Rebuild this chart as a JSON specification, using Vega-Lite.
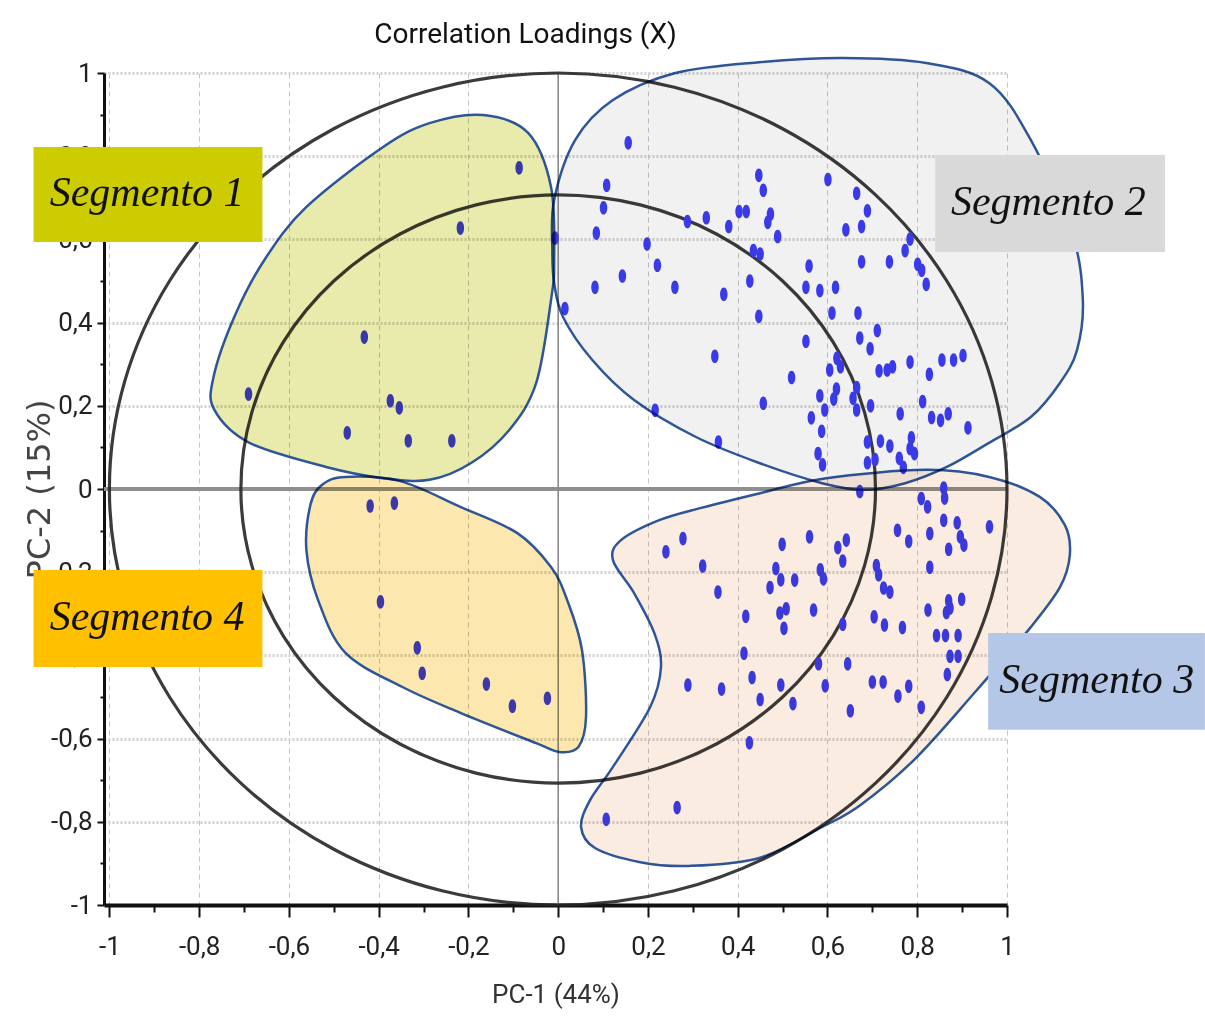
{
"$schema": "https://vega.github.io/schema/vega-lite/v6.json",
"width": 903, "height": 832,
"autosize": {"type": "none"},
"padding": {"left": 104, "top": 73, "right": 198, "bottom": 115},
"background": "white",
"title": {"text": "Correlation Loadings (X)", "font": "Roboto", "fontSize": 28, "fontWeight": "normal", "color": "#111111", "anchor": "middle", "frame": "group", "dx": -30, "offset": 4},
"config": {
 "view": {"stroke": null}
},
"datasets": {
"points": [
{"x":0.156,"y":0.832},{"x":0.108,"y":0.730},{"x":0.101,"y":0.676},{"x":0.085,"y":0.615},{"x":0.082,"y":0.485},{"x":0.143,"y":0.512},{"x":0.015,"y":0.434},{"x":0.198,"y":0.589},{"x":0.221,"y":0.538},{"x":0.260,"y":0.485},{"x":0.288,"y":0.643},{"x":0.330,"y":0.652},{"x":0.380,"y":0.631},{"x":0.403,"y":0.667},{"x":0.419,"y":0.667},{"x":0.447,"y":0.754},{"x":0.457,"y":0.718},{"x":0.473,"y":0.661},{"x":0.467,"y":0.641},{"x":0.489,"y":0.607},{"x":0.435,"y":0.573},{"x":0.450,"y":0.565},{"x":0.427,"y":0.500},{"x":0.369,"y":0.468},{"x":0.447,"y":0.415},{"x":0.349,"y":0.319},{"x":0.520,"y":0.268},{"x":0.457,"y":0.206},{"x":0.216,"y":0.189},{"x":0.357,"y":0.113},{"x":-0.007,"y":0.603},
{"x":0.601,"y":0.744},{"x":0.665,"y":0.711},{"x":0.689,"y":0.669},{"x":0.676,"y":0.631},{"x":0.641,"y":0.623},{"x":0.676,"y":0.546},{"x":0.738,"y":0.546},{"x":0.773,"y":0.573},{"x":0.784,"y":0.601},{"x":0.801,"y":0.540},{"x":0.810,"y":0.526},{"x":0.820,"y":0.492},{"x":0.559,"y":0.536},{"x":0.552,"y":0.485},{"x":0.583,"y":0.477},{"x":0.618,"y":0.485},{"x":0.610,"y":0.423},{"x":0.668,"y":0.423},{"x":0.711,"y":0.381},{"x":0.672,"y":0.363},{"x":0.695,"y":0.337},{"x":0.552,"y":0.355},{"x":0.605,"y":0.286},{"x":0.621,"y":0.314},{"x":0.629,"y":0.294},{"x":0.715,"y":0.284},{"x":0.733,"y":0.286},{"x":0.745,"y":0.294},{"x":0.784,"y":0.305},{"x":0.827,"y":0.276},{"x":0.855,"y":0.310},{"x":0.881,"y":0.310},{"x":0.902,"y":0.321},{"x":0.583,"y":0.224},{"x":0.620,"y":0.240},{"x":0.614,"y":0.216},{"x":0.665,"y":0.244},{"x":0.657,"y":0.218},{"x":0.665,"y":0.190},{"x":0.696,"y":0.200},{"x":0.594,"y":0.190},{"x":0.564,"y":0.171},{"x":0.587,"y":0.139},{"x":0.762,"y":0.181},{"x":0.812,"y":0.210},{"x":0.832,"y":0.172},{"x":0.852,"y":0.165},{"x":0.869,"y":0.181},{"x":0.913,"y":0.147},{"x":0.579,"y":0.085},{"x":0.589,"y":0.058},{"x":0.689,"y":0.113},{"x":0.689,"y":0.063},{"x":0.706,"y":0.071},{"x":0.718,"y":0.115},{"x":0.739,"y":0.103},{"x":0.760,"y":0.074},{"x":0.769,"y":0.052},{"x":0.787,"y":0.123},{"x":0.784,"y":0.097},{"x":0.794,"y":0.085},
{"x":0.240,"y":-0.151},{"x":0.278,"y":-0.119},{"x":0.322,"y":-0.185},{"x":0.356,"y":-0.248},{"x":0.499,"y":-0.133},{"x":0.485,"y":-0.191},{"x":0.496,"y":-0.218},{"x":0.472,"y":-0.237},{"x":0.527,"y":-0.219},{"x":0.418,"y":-0.306},{"x":0.494,"y":-0.298},{"x":0.508,"y":-0.288},{"x":0.503,"y":-0.335},{"x":0.414,"y":-0.395},{"x":0.289,"y":-0.471},{"x":0.364,"y":-0.481},{"x":0.432,"y":-0.453},{"x":0.450,"y":-0.506},{"x":0.496,"y":-0.471},{"x":0.523,"y":-0.516},{"x":0.426,"y":-0.610},{"x":0.265,"y":-0.766},{"x":0.107,"y":-0.794},
{"x":0.672,"y":-0.006},{"x":0.859,"y":0.002},{"x":0.861,"y":-0.022},{"x":0.809,"y":-0.023},{"x":0.823,"y":-0.043},{"x":0.859,"y":-0.075},{"x":0.889,"y":-0.081},{"x":0.896,"y":-0.115},{"x":0.904,"y":-0.135},{"x":0.870,"y":-0.145},{"x":0.961,"y":-0.091},{"x":0.828,"y":-0.107},{"x":0.756,"y":-0.099},{"x":0.781,"y":-0.126},{"x":0.828,"y":-0.188},{"x":0.560,"y":-0.115},{"x":0.623,"y":-0.141},{"x":0.642,"y":-0.123},{"x":0.634,"y":-0.173},{"x":0.584,"y":-0.194},{"x":0.591,"y":-0.216},{"x":0.709,"y":-0.184},{"x":0.714,"y":-0.206},{"x":0.725,"y":-0.238},{"x":0.739,"y":-0.248},{"x":0.569,"y":-0.291},{"x":0.634,"y":-0.325},{"x":0.704,"y":-0.307},{"x":0.727,"y":-0.327},{"x":0.767,"y":-0.333},{"x":0.824,"y":-0.291},{"x":0.870,"y":-0.269},{"x":0.899,"y":-0.265},{"x":0.865,"y":-0.297},{"x":0.873,"y":-0.286},{"x":0.843,"y":-0.352},{"x":0.863,"y":-0.352},{"x":0.891,"y":-0.352},{"x":0.873,"y":-0.402},{"x":0.891,"y":-0.402},{"x":0.867,"y":-0.446},{"x":0.580,"y":-0.420},{"x":0.645,"y":-0.420},{"x":0.595,"y":-0.473},{"x":0.651,"y":-0.533},{"x":0.700,"y":-0.464},{"x":0.724,"y":-0.464},{"x":0.757,"y":-0.498},{"x":0.781,"y":-0.474},{"x":0.809,"y":-0.525},
{"x":-0.690,"y":0.228},{"x":-0.432,"y":0.365},{"x":-0.374,"y":0.212},{"x":-0.354,"y":0.195},{"x":-0.470,"y":0.135},{"x":-0.334,"y":0.116},{"x":-0.237,"y":0.116},{"x":-0.087,"y":0.772},{"x":-0.218,"y":0.627},
{"x":-0.419,"y":-0.041},{"x":-0.365,"y":-0.034},{"x":-0.396,"y":-0.271},{"x":-0.314,"y":-0.382},{"x":-0.303,"y":-0.443},{"x":-0.160,"y":-0.469},{"x":-0.102,"y":-0.522},{"x":-0.024,"y":-0.503}
],
"circles": [
{"c":"o","i":0,"x":1,"y":0},{"c":"o","i":1,"x":0.9659,"y":0.2588},{"c":"o","i":2,"x":0.866,"y":0.5},{"c":"o","i":3,"x":0.7071,"y":0.7071},{"c":"o","i":4,"x":0.5,"y":0.866},{"c":"o","i":5,"x":0.2588,"y":0.9659},{"c":"o","i":6,"x":0,"y":1},{"c":"o","i":7,"x":-0.2588,"y":0.9659},{"c":"o","i":8,"x":-0.5,"y":0.866},{"c":"o","i":9,"x":-0.7071,"y":0.7071},{"c":"o","i":10,"x":-0.866,"y":0.5},{"c":"o","i":11,"x":-0.9659,"y":0.2588},{"c":"o","i":12,"x":-1,"y":0},{"c":"o","i":13,"x":-0.9659,"y":-0.2588},{"c":"o","i":14,"x":-0.866,"y":-0.5},{"c":"o","i":15,"x":-0.7071,"y":-0.7071},{"c":"o","i":16,"x":-0.5,"y":-0.866},{"c":"o","i":17,"x":-0.2588,"y":-0.9659},{"c":"o","i":18,"x":0,"y":-1},{"c":"o","i":19,"x":0.2588,"y":-0.9659},{"c":"o","i":20,"x":0.5,"y":-0.866},{"c":"o","i":21,"x":0.7071,"y":-0.7071},{"c":"o","i":22,"x":0.866,"y":-0.5},{"c":"o","i":23,"x":0.9659,"y":-0.2588},
{"c":"n","i":0,"x":0.707,"y":0},{"c":"n","i":1,"x":0.6829,"y":0.183},{"c":"n","i":2,"x":0.6123,"y":0.3535},{"c":"n","i":3,"x":0.5,"y":0.5},{"c":"n","i":4,"x":0.3535,"y":0.6123},{"c":"n","i":5,"x":0.183,"y":0.6829},{"c":"n","i":6,"x":0,"y":0.707},{"c":"n","i":7,"x":-0.183,"y":0.6829},{"c":"n","i":8,"x":-0.3535,"y":0.6123},{"c":"n","i":9,"x":-0.5,"y":0.5},{"c":"n","i":10,"x":-0.6123,"y":0.3535},{"c":"n","i":11,"x":-0.6829,"y":0.183},{"c":"n","i":12,"x":-0.707,"y":0},{"c":"n","i":13,"x":-0.6829,"y":-0.183},{"c":"n","i":14,"x":-0.6123,"y":-0.3535},{"c":"n","i":15,"x":-0.5,"y":-0.5},{"c":"n","i":16,"x":-0.3535,"y":-0.6123},{"c":"n","i":17,"x":-0.183,"y":-0.6829},{"c":"n","i":18,"x":0,"y":-0.707},{"c":"n","i":19,"x":0.183,"y":-0.6829},{"c":"n","i":20,"x":0.3535,"y":-0.6123},{"c":"n","i":21,"x":0.5,"y":-0.5},{"c":"n","i":22,"x":0.6123,"y":-0.3535},{"c":"n","i":23,"x":0.6829,"y":-0.183}
],
"shapes": [
{"s":1,"i":0,"x":-0.167,"y":0.899},{"s":1,"i":1,"x":-0.067,"y":0.856},{"s":1,"i":2,"x":-0.016,"y":0.726},{"s":1,"i":3,"x":-0.009,"y":0.550},{"s":1,"i":4,"x":-0.016,"y":0.454},{"s":1,"i":5,"x":-0.049,"y":0.255},{"s":1,"i":6,"x":-0.109,"y":0.142},{"s":1,"i":7,"x":-0.194,"y":0.0625},{"s":1,"i":8,"x":-0.287,"y":0.022},{"s":1,"i":9,"x":-0.390,"y":0.026},{"s":1,"i":10,"x":-0.517,"y":0.053},{"s":1,"i":11,"x":-0.688,"y":0.111},{"s":1,"i":12,"x":-0.766,"y":0.190},{"s":1,"i":13,"x":-0.768,"y":0.269},{"s":1,"i":14,"x":-0.722,"y":0.413},{"s":1,"i":15,"x":-0.655,"y":0.550},{"s":1,"i":16,"x":-0.561,"y":0.678},{"s":1,"i":17,"x":-0.390,"y":0.822},{"s":1,"i":18,"x":-0.285,"y":0.880},
{"s":2,"i":0,"x":-0.013,"y":0.575},{"s":2,"i":1,"x":-0.009,"y":0.695},{"s":2,"i":2,"x":0.038,"y":0.839},{"s":2,"i":3,"x":0.122,"y":0.935},{"s":2,"i":4,"x":0.261,"y":1.0},{"s":2,"i":5,"x":0.448,"y":1.026},{"s":2,"i":6,"x":0.635,"y":1.036},{"s":2,"i":7,"x":0.820,"y":1.024},{"s":2,"i":8,"x":0.960,"y":0.976},{"s":2,"i":9,"x":1.053,"y":0.839},{"s":2,"i":10,"x":1.145,"y":0.615},{"s":2,"i":11,"x":1.169,"y":0.454},{"s":2,"i":12,"x":1.156,"y":0.334},{"s":2,"i":13,"x":1.118,"y":0.255},{"s":2,"i":14,"x":1.053,"y":0.173},{"s":2,"i":15,"x":0.960,"y":0.111},{"s":2,"i":16,"x":0.866,"y":0.053},{"s":2,"i":17,"x":0.773,"y":0.014},{"s":2,"i":18,"x":0.682,"y":-0.002},{"s":2,"i":19,"x":0.588,"y":0.014},{"s":2,"i":20,"x":0.448,"y":0.0625},{"s":2,"i":21,"x":0.307,"y":0.125},{"s":2,"i":22,"x":0.169,"y":0.214},{"s":2,"i":23,"x":0.076,"y":0.310},{"s":2,"i":24,"x":0.011,"y":0.413},{"s":2,"i":25,"x":-0.009,"y":0.495},
{"s":3,"i":0,"x":0.140,"y":-0.123},{"s":3,"i":1,"x":0.225,"y":-0.075},{"s":3,"i":2,"x":0.316,"y":-0.046},{"s":3,"i":3,"x":0.450,"y":-0.010},{"s":3,"i":4,"x":0.597,"y":0.026},{"s":3,"i":5,"x":0.820,"y":0.046},{"s":3,"i":6,"x":0.960,"y":0.029},{"s":3,"i":7,"x":1.073,"y":-0.019},{"s":3,"i":8,"x":1.129,"y":-0.087},{"s":3,"i":9,"x":1.140,"y":-0.159},{"s":3,"i":10,"x":1.118,"y":-0.236},{"s":3,"i":11,"x":1.053,"y":-0.332},{"s":3,"i":12,"x":0.929,"y":-0.488},{"s":3,"i":13,"x":0.793,"y":-0.651},{"s":3,"i":14,"x":0.673,"y":-0.760},{"s":3,"i":15,"x":0.588,"y":-0.8125},{"s":3,"i":16,"x":0.448,"y":-0.887},{"s":3,"i":17,"x":0.290,"y":-0.906},{"s":3,"i":18,"x":0.183,"y":-0.897},{"s":3,"i":19,"x":0.082,"y":-0.863},{"s":3,"i":20,"x":0.051,"y":-0.8125},{"s":3,"i":21,"x":0.071,"y":-0.748},{"s":3,"i":22,"x":0.122,"y":-0.668},{"s":3,"i":23,"x":0.205,"y":-0.524},{"s":3,"i":24,"x":0.229,"y":-0.428},{"s":3,"i":25,"x":0.214,"y":-0.346},{"s":3,"i":26,"x":0.169,"y":-0.250},{"s":3,"i":27,"x":0.122,"y":-0.171},
{"s":4,"i":0,"x":-0.474,"y":0.029},{"s":4,"i":1,"x":-0.352,"y":0.019},{"s":4,"i":2,"x":-0.218,"y":-0.043},{"s":4,"i":3,"x":-0.091,"y":-0.106},{"s":4,"i":4,"x":-0.016,"y":-0.1875},{"s":4,"i":5,"x":0.020,"y":-0.267},{"s":4,"i":6,"x":0.053,"y":-0.387},{"s":4,"i":7,"x":0.062,"y":-0.548},{"s":4,"i":8,"x":0.045,"y":-0.620},{"s":4,"i":9,"x":0.002,"y":-0.632},{"s":4,"i":10,"x":-0.049,"y":-0.611},{"s":4,"i":11,"x":-0.218,"y":-0.538},{"s":4,"i":12,"x":-0.347,"y":-0.476},{"s":4,"i":13,"x":-0.474,"y":-0.394},{"s":4,"i":14,"x":-0.535,"y":-0.267},{"s":4,"i":15,"x":-0.561,"y":-0.147},{"s":4,"i":16,"x":-0.552,"y":-0.038},{"s":4,"i":17,"x":-0.526,"y":0.010}
],
"labels": [
{"label":"Segmento 1","x":-1.169,"x2":-0.659,"y":0.822,"y2":0.594},
{"label":"Segmento 2","x":0.840,"x2":1.352,"y":0.803,"y2":0.570},
{"label":"Segmento 3","x":0.958,"x2":1.441,"y":-0.346,"y2":-0.579},
{"label":"Segmento 4","x":-1.169,"x2":-0.659,"y":-0.195,"y2":-0.428}
],
"labeltext": [
{"label":"Segmento 1","x":-0.916,"y":0.712},
{"label":"Segmento 2","x":1.092,"y":0.690},
{"label":"Segmento 3","x":1.200,"y":-0.458},
{"label":"Segmento 4","x":-0.916,"y":-0.307}
],
"zero": [{"x":0,"y":0}]
},
"layer": [
{"data": {"name": "zero"}, "mark": {"type": "rule", "color": "#8f8f8f", "strokeWidth": 4},
 "encoding": {"y": {"field": "y", "type": "quantitative", "title": "PC-2 (15%)", "scale": {"domain": [-1, 1], "nice": false, "zero": false}}}},
{"data": {"name": "zero"}, "mark": {"type": "rule", "color": "#8a8a8a", "strokeWidth": 1.6},
 "encoding": {"x": {"field": "x", "type": "quantitative", "title": "PC-1 (44%)", "scale": {"domain": [-1.012, 1], "nice": false, "zero": false}}}},
{"data": {"name": "circles"}, "mark": {"type": "line", "interpolate": "cardinal-closed", "color": "#262626", "strokeWidth": 3.2, "opacity": 0.9},
 "encoding": {"x": {"field": "x", "type": "quantitative", "title": "PC-1 (44%)", "scale": {"domain": [-1.012, 1], "nice": false, "zero": false}},
  "y": {"field": "y", "type": "quantitative", "title": "PC-2 (15%)", "scale": {"domain": [-1, 1], "nice": false, "zero": false}},
  "detail": {"field": "c"}, "order": {"field": "i", "type": "quantitative"}}},
{"data": {"name": "points"},
 "mark": {"type": "point", "shape": "M0,-1C0.73,-1,0.73,1,0,1C-0.73,1,-0.73,-1,0,-1Z", "filled": true, "color": "#3d3df7", "size": 185, "opacity": 1},
 "encoding": {
  "x": {"field": "x", "type": "quantitative", "title": "PC-1 (44%)", "scale": {"domain": [-1.012, 1], "nice": false, "zero": false},
   "axis": {"values": [-1,-0.9,-0.8,-0.7,-0.6,-0.5,-0.4,-0.3,-0.2,-0.1,0,0.1,0.2,0.3,0.4,0.5,0.6,0.7,0.8,0.9,1],
    "labelExpr": "round(datum.value*10) % 2 != 0 ? '' : replace(toString(datum.value), '.', ',')",
    "labelFont": "Roboto", "labelFontSize": 26, "labelColor": "#222222", "labelPadding": 16, "labelOverlap": false, "labelFlush": false,
    "domainColor": "#111111", "domainWidth": 4, "tickColor": "#111111", "tickWidth": 2,
    "tickSize": {"condition": {"test": "round(datum.value*10) % 2 != 0", "value": 7}, "value": 12},
    "grid": true, "gridColor": "#c4c4c4", "gridDash": [5, 4], "gridWidth": 1,
    "gridOpacity": {"condition": {"test": "round(datum.value*10) % 2 != 0", "value": 0}, "value": 1},
    "titleFont": "Roboto", "titleFontSize": 26, "titleFontWeight": "normal", "titleColor": "#333333", "titlePadding": 22}},
  "y": {"field": "y", "type": "quantitative", "title": "PC-2 (15%)", "scale": {"domain": [-1, 1], "nice": false, "zero": false},
   "axis": {"values": [-1,-0.9,-0.8,-0.7,-0.6,-0.5,-0.4,-0.3,-0.2,-0.1,0,0.1,0.2,0.3,0.4,0.5,0.6,0.7,0.8,0.9,1],
    "labelExpr": "round(datum.value*10) % 2 != 0 ? '' : replace(toString(datum.value), '.', ',')",
    "labelFont": "Roboto", "labelFontSize": 26, "labelColor": "#222222", "labelPadding": 5, "labelOverlap": false, "labelFlush": false,
    "domainColor": "#111111", "domainWidth": 3, "tickColor": "#111111", "tickWidth": 2,
    "tickSize": {"condition": {"test": "round(datum.value*10) % 2 != 0", "value": 4}, "value": 7},
    "grid": true, "gridColor": "#d2d2d2", "gridDash": [2, 2], "gridWidth": 3,
    "gridOpacity": {"condition": {"test": "round(datum.value*10) % 2 != 0", "value": 0}, "value": 1},
    "titleFont": "DejaVu Sans", "titleFontSize": 32, "titleFontWeight": "normal", "titleColor": "#444444", "titlePadding": -6}}
 }},
{"data": {"name": "shapes"}, "transform": [{"filter": "datum.s == 1"}],
 "mark": {"type": "line", "interpolate": "cardinal-closed", "fill": "#E9EBAD", "stroke": "#2F5597", "strokeWidth": 2.5, "blend": "multiply"},
 "encoding": {"x": {"field": "x", "type": "quantitative", "title": "PC-1 (44%)", "scale": {"domain": [-1.012, 1], "nice": false, "zero": false}},
  "y": {"field": "y", "type": "quantitative", "title": "PC-2 (15%)", "scale": {"domain": [-1, 1], "nice": false, "zero": false}},
  "order": {"field": "i", "type": "quantitative"}}},
{"data": {"name": "shapes"}, "transform": [{"filter": "datum.s == 2"}],
 "mark": {"type": "line", "interpolate": "cardinal-closed", "fill": "#F1F1F1", "stroke": "#2F5597", "strokeWidth": 2.5, "blend": "multiply"},
 "encoding": {"x": {"field": "x", "type": "quantitative", "title": "PC-1 (44%)", "scale": {"domain": [-1.012, 1], "nice": false, "zero": false}},
  "y": {"field": "y", "type": "quantitative", "title": "PC-2 (15%)", "scale": {"domain": [-1, 1], "nice": false, "zero": false}},
  "order": {"field": "i", "type": "quantitative"}}},
{"data": {"name": "shapes"}, "transform": [{"filter": "datum.s == 3"}],
 "mark": {"type": "line", "interpolate": "cardinal-closed", "fill": "#FBECE1", "stroke": "#2F5597", "strokeWidth": 2.5, "blend": "multiply"},
 "encoding": {"x": {"field": "x", "type": "quantitative", "title": "PC-1 (44%)", "scale": {"domain": [-1.012, 1], "nice": false, "zero": false}},
  "y": {"field": "y", "type": "quantitative", "title": "PC-2 (15%)", "scale": {"domain": [-1, 1], "nice": false, "zero": false}},
  "order": {"field": "i", "type": "quantitative"}}},
{"data": {"name": "shapes"}, "transform": [{"filter": "datum.s == 4"}],
 "mark": {"type": "line", "interpolate": "cardinal-closed", "fill": "#FCE8AE", "stroke": "#2F5597", "strokeWidth": 2.5, "blend": "multiply"},
 "encoding": {"x": {"field": "x", "type": "quantitative", "title": "PC-1 (44%)", "scale": {"domain": [-1.012, 1], "nice": false, "zero": false}},
  "y": {"field": "y", "type": "quantitative", "title": "PC-2 (15%)", "scale": {"domain": [-1, 1], "nice": false, "zero": false}},
  "order": {"field": "i", "type": "quantitative"}}},
{"data": {"name": "labels"}, "mark": {"type": "rect"},
 "encoding": {"x": {"field": "x", "type": "quantitative", "title": "PC-1 (44%)", "scale": {"domain": [-1.012, 1], "nice": false, "zero": false}},
  "x2": {"field": "x2"},
  "y": {"field": "y", "type": "quantitative", "title": "PC-2 (15%)", "scale": {"domain": [-1, 1], "nice": false, "zero": false}},
  "y2": {"field": "y2"},
  "color": {"field": "label", "type": "nominal", "scale": {"domain": ["Segmento 1", "Segmento 2", "Segmento 3", "Segmento 4"], "range": ["#CCCC00", "#D9D9D9", "#B4C7E7", "#FFC000"]}, "legend": null}}},
{"data": {"name": "labeltext"}, "mark": {"type": "text", "font": "Liberation Serif", "fontStyle": "italic", "fontSize": 42, "color": "#111111", "align": "center", "baseline": "middle"},
 "encoding": {"x": {"field": "x", "type": "quantitative", "title": "PC-1 (44%)", "scale": {"domain": [-1.012, 1], "nice": false, "zero": false}},
  "y": {"field": "y", "type": "quantitative", "title": "PC-2 (15%)", "scale": {"domain": [-1, 1], "nice": false, "zero": false}},
  "text": {"field": "label"}}}
]
}
